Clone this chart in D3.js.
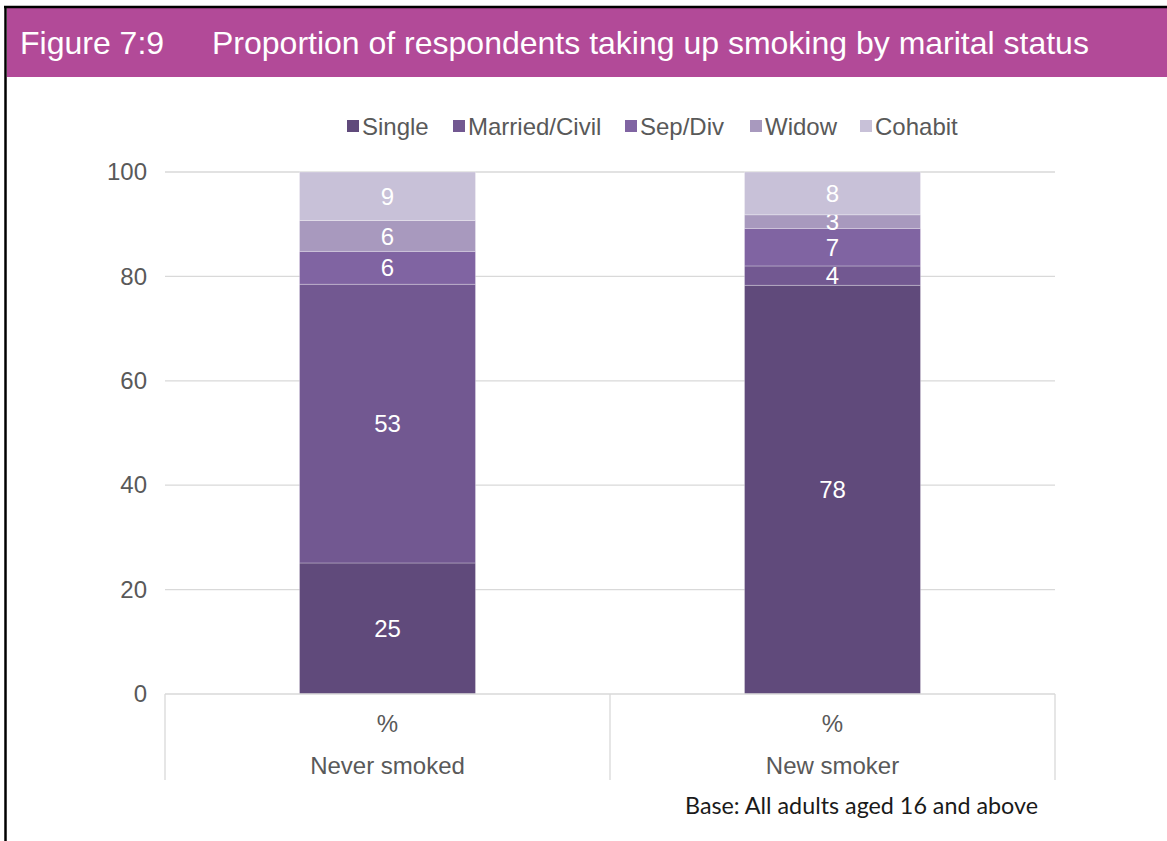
<!DOCTYPE html>
<html>
<head>
<meta charset="utf-8">
<script src="https://cdn.jsdelivr.net/npm/d3@7"></script>
<style>
  html, body { margin: 0; padding: 0; background: #fff; }
  #chart { width: 1167px; height: 841px; }
</style>
</head>
<body>
<div id="chart"></div>
<script>
// categories and series (in %)
const groups = ['Never smoked', 'New smoker'];
const groupUnits = ['%', '%'];
const seriesNames = ['Single', 'Married/Civil', 'Sep/Div', 'Widow', 'Cohabit'];
const seriesColors = ['#604a7b', '#725891', '#8064a2', '#a899be', '#c8c1d8'];
const single = [25.1, 78.3];
const married = [53.4, 3.7];
const sepDiv = [6.3, 7.2];
const widow = [5.9, 2.6];
const cohabit = [9.3, 8.2];
const yTicks = [0, 20, 40, 60, 80, 100];

const width = 1167;
const height = 841;
const margin = { top: 172, right: 112, bottom: 147, left: 165 };
const innerW = width - margin.left - margin.right;
const innerH = height - margin.top - margin.bottom;
const font = '"Liberation Sans", Arial, sans-serif';
const fs = '24px';

const svg = d3.select('#chart').append('svg')
  .attr('width', width)
  .attr('height', height)
  .attr('viewBox', `0 0 ${width} ${height}`);

// frame + header band
svg.append('rect').attr('x', 7).attr('y', 8).attr('width', width - 7).attr('height', 69)
  .attr('fill', '#b24a98');
svg.append('line').attr('x1', 4).attr('x2', width).attr('y1', 7).attr('y2', 7)
  .attr('stroke', '#000').attr('stroke-width', 2.5);
svg.append('line').attr('x1', 5.5).attr('x2', 5.5).attr('y1', 6).attr('y2', height)
  .attr('stroke', '#000').attr('stroke-width', 2.5);

svg.append('text').attr('x', 20).attr('y', 54)
  .attr('fill', '#fff').style('font-family', font).style('font-size', '32px')
  .text('Figure 7:9');
svg.append('text').attr('x', 212).attr('y', 54)
  .attr('fill', '#fff').style('font-family', font).style('font-size', '32px')
  .text('Proportion of respondents taking up smoking by marital status');

// stacked table
const table = groups.map((g, i) => ({
  group: g,
  unit: groupUnits[i],
  Single: single[i],
  'Married/Civil': married[i],
  'Sep/Div': sepDiv[i],
  Widow: widow[i],
  Cohabit: cohabit[i]
}));
const stacked = d3.stack().keys(seriesNames)(table);

const x = d3.scaleBand().domain(groups).range([0, innerW]).paddingInner(0).paddingOuter(0);
const y = d3.scaleLinear().domain([0, 100]).range([innerH, 0]);
const color = d3.scaleOrdinal().domain(seriesNames).range(seriesColors);
const barW = 176;

const mg = svg.append('g').attr('transform', `translate(${margin.left},${margin.top})`);

// gridlines
mg.append('g').selectAll('line')
  .data(yTicks.filter(d => d > 0))
  .join('line')
  .attr('x1', 0).attr('x2', innerW)
  .attr('y1', d => y(d)).attr('y2', d => y(d))
  .attr('stroke', '#d9d9d9').attr('stroke-width', 1.3);

// y axis labels
const yAxis = mg.append('g')
  .call(d3.axisLeft(y).tickValues(yTicks).tickSize(0).tickPadding(18));
yAxis.select('.domain').remove();
yAxis.selectAll('text')
  .attr('fill', '#595959')
  .style('font-family', font).style('font-size', fs);

// bars
const layer = mg.append('g').selectAll('g')
  .data(stacked)
  .join('g')
  .attr('fill', d => color(d.key));

layer.selectAll('rect')
  .data(d => d)
  .join('rect')
  .attr('x', d => x(d.data.group) + (x.bandwidth() - barW) / 2)
  .attr('width', barW)
  .attr('y', d => y(d[1]))
  .attr('height', d => y(d[0]) - y(d[1]))
  .attr('stroke', 'rgba(255,255,255,0.35)')
  .attr('stroke-width', 0.8);

// value labels
layer.selectAll('text')
  .data(d => d)
  .join('text')
  .attr('x', d => x(d.data.group) + x.bandwidth() / 2)
  .attr('y', d => (y(d[0]) + y(d[1])) / 2)
  .attr('dy', '0.36em')
  .attr('text-anchor', 'middle')
  .attr('fill', '#fff')
  .style('font-family', font).style('font-size', fs)
  .text(d => Math.round(d[1] - d[0]));

// category axis (table style)
const bottom = mg.append('g').attr('transform', `translate(0,${innerH})`);
bottom.append('line').attr('x1', 0).attr('x2', innerW).attr('y1', 0).attr('y2', 0)
  .attr('stroke', '#d9d9d9').attr('stroke-width', 1.3);
bottom.selectAll('line.sep')
  .data([0, ...groups.map(g => x(g) + x.bandwidth())])
  .join('line').attr('class', 'sep')
  .attr('x1', d => d).attr('x2', d => d)
  .attr('y1', 0).attr('y2', 86)
  .attr('stroke', '#d9d9d9').attr('stroke-width', 1.3);
bottom.selectAll('text.unit')
  .data(table)
  .join('text').attr('class', 'unit')
  .attr('x', d => x(d.group) + x.bandwidth() / 2)
  .attr('y', 38)
  .attr('text-anchor', 'middle')
  .attr('fill', '#595959')
  .style('font-family', font).style('font-size', fs)
  .text(d => d.unit);
bottom.selectAll('text.cat')
  .data(table)
  .join('text').attr('class', 'cat')
  .attr('x', d => x(d.group) + x.bandwidth() / 2)
  .attr('y', 80)
  .attr('text-anchor', 'middle')
  .attr('fill', '#595959')
  .style('font-family', font).style('font-size', fs)
  .text(d => d.group);

// legend
const legendX = [347, 453, 625, 750, 860];
const legend = svg.append('g').selectAll('g')
  .data(seriesNames)
  .join('g')
  .attr('transform', (d, i) => `translate(${legendX[i]},126)`);
legend.append('rect')
  .attr('x', 0).attr('y', -6).attr('width', 12).attr('height', 12)
  .attr('fill', d => color(d));
legend.append('text')
  .attr('x', 15).attr('y', 0).attr('dy', '0.36em')
  .attr('fill', '#595959')
  .style('font-family', font).style('font-size', fs)
  .text(d => d);

// base note
svg.append('text').attr('x', 685).attr('y', 814)
  .attr('fill', '#1a1a1a')
  .style('font-family', 'Lato, "Open Sans", sans-serif').style('font-size', '23.3px')
  .text('Base: All adults aged 16 and above');
</script>
</body>
</html>
